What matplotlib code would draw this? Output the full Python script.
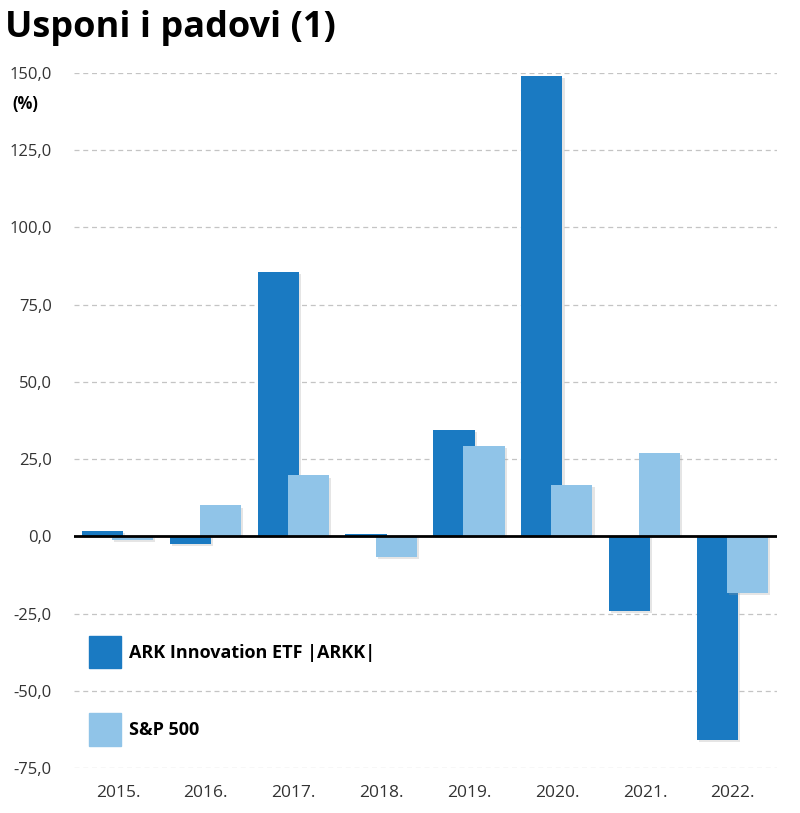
import numpy as np
import matplotlib
matplotlib.use("Agg")
import matplotlib.pyplot as plt
import matplotlib.patheffects as pe
from matplotlib.patches import Patch

years = ['2015.', '2016.', '2017.', '2018.', '2019.', '2020.', '2021.', '2022.']
arkk = [1.6, -2.6, 85.5, 0.6, 34.5, 149.0, -24.2, -65.8]
sp500 = [-1.3, 10.0, 19.7, -6.8, 29.4, 16.5, 27.1, -18.4]
yticks = [-75, -50, -25, 0, 25, 50, 75, 100, 125, 150]

c_dark = '#1a7ac2'
c_light = '#90c4e8'

plt.rcParams['font.family'] = ['Open Sans', 'DejaVu Sans']

fig = plt.figure(figsize=(8, 8.13), dpi=100)
ax = fig.add_axes([0.0925, 0.0554, 0.8785, 0.8548])

x = np.arange(len(years))
w = 0.47
# soft drop shadow like the original
shadow = [pe.SimplePatchShadow(offset=(1.5, -1.5), shadow_rgbFace='#999999', alpha=0.25), pe.Normal()]

b1 = ax.bar(x - 0.175, arkk, width=w, color=c_dark, zorder=3)
b2 = ax.bar(x + 0.167, sp500, width=w, color=c_light, zorder=4)
for b in list(b1) + list(b2):
    b.set_path_effects(shadow)

ax.set_xlim(-0.5, 7.5)
ax.set_ylim(-75, 150)
ax.set_yticks(yticks)
ax.set_yticklabels([('%.1f' % v).replace('.', ',') for v in yticks])
ax.set_xticks(x)
ax.set_xticklabels(years)
ax.tick_params(axis='y', length=0, pad=16, labelsize=12, labelcolor='#333333')
ax.tick_params(axis='x', length=0, pad=12, labelsize=12.5, labelcolor='#333333')

for v in yticks:
    if v != 0:
        ax.axhline(v, color='#c4c4c4', lw=0.9, ls=(0, (4, 3)), zorder=1)
ax.axhline(0, color='black', lw=2, zorder=5)

for s in ax.spines.values():
    s.set_visible(False)

fig.text(0.006, 0.965, 'Usponi i padovi (1)', fontsize=26, fontweight='bold',
         ha='left', va='center')
fig.text(0.015, 0.872, '(%)', fontsize=12, fontweight='bold', ha='left', va='center')

handles = [Patch(facecolor=c_dark, edgecolor=c_dark), Patch(facecolor=c_light, edgecolor=c_light)]
leg = ax.legend(handles, ['ARK Innovation ETF |ARKK|', 'S&P 500'],
                loc='upper left', bbox_to_anchor=(0.111, 0.218), bbox_transform=fig.transFigure,
                frameon=False, borderpad=0, borderaxespad=0,
                handlelength=1.78, handleheight=2.4, handletextpad=0.45,
                labelspacing=2.5, prop={'size': 13, 'weight': 'bold'})
leg.set_zorder(6)

fig.savefig('out.png', dpi=100, facecolor='white')
